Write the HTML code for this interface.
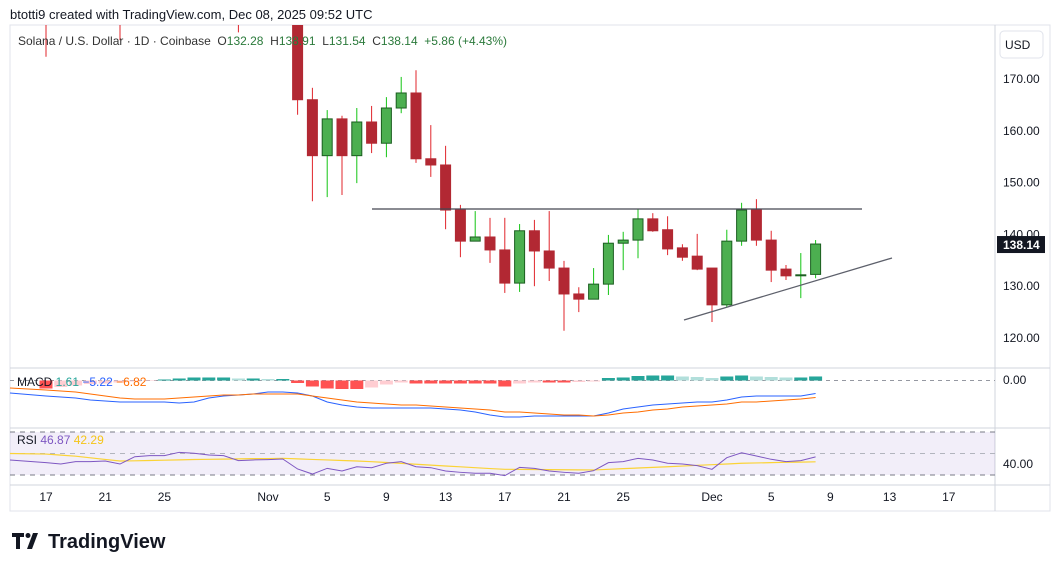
<!DOCTYPE html>
<html><head><meta charset="utf-8"><style>
body{margin:0;background:#fff;width:1057px;height:571px;overflow:hidden;font-family:"Liberation Sans",sans-serif}
svg{position:absolute;left:0;top:0}
</style></head><body>
<svg id="c" width="1057" height="571" xmlns="http://www.w3.org/2000/svg"></svg>
<script>
const opens  =[194,186,190,188,191,186,182,187,189,190,187,188,191,189,187,186,188, 186,166,155.2,162.3,155.2,161.7,157.6,164.4,167.3,154.6,153.4,144.7,138.7,139.5,137.0,130.6,140.7,136.8,133.5,128.5,127.5,130.4,138.3,138.9,143.0,140.9,137.4,135.8,133.5,126.4,138.7,144.7,138.9,133.3,132.2,132.28];
const highs  =[195,192,193,192,193,188,187,191,192,193,190,192,193,191,190,189,190, 188,168.3,164.0,162.9,164.4,164.8,166.5,170.4,171.7,161.1,157.1,145.7,144.5,143.2,143.2,142.0,142.8,144.5,134.9,129.8,133.5,139.9,140.5,144.9,144.1,143.5,138.1,140.1,133.5,140.9,146.1,146.8,140.7,134.1,136.4,138.91];
const lows   =[174.3,185,186,186,185,177.5,180.5,184,186,186,185,186,187,179,184,183,184, 163.1,146.4,147.2,147.6,149.9,155.7,154.9,163.4,153.8,151.1,141.0,135.6,138.7,134.5,128.7,128.9,130.0,131.0,121.4,125.0,127.5,128.3,133.1,135.4,140.5,136.0,134.9,133.1,123.1,126.0,137.8,137.8,130.8,131.2,127.7,131.54];
const closes =[186,190,188,191,186,182,187,189,190,187,188,191,189,187,186,188,186, 166,155.2,162.3,155.2,161.7,157.6,164.4,167.3,154.6,153.4,144.7,138.7,139.5,137.0,130.6,140.7,136.8,133.5,128.5,127.5,130.4,138.3,138.9,143.0,140.7,137.2,135.6,133.3,126.4,138.7,144.7,138.9,133.1,132.0,132.2,138.14];
const macdLine=[-6.2,-6.6,-7.0,-7.8,-8.2,-8.6,-8.6,-8.6,-8.6,-9.0,-8.6,-7.0,-6.2,-5.8,-5.4,-4.6,-4.6,-5.0,-6.2,-8.6,-9.8,-10.6,-11.0,-11.0,-11.0,-11.0,-11.0,-11.4,-11.8,-12.6,-13.8,-14.6,-14.6,-14.2,-14.2,-14.2,-14.2,-14.2,-13.0,-11.4,-10.6,-9.8,-9.4,-9.0,-8.6,-8.6,-7.8,-6.6,-6.2,-6.2,-6.2,-6.2,-5.22];
const signalLine=[-3.8,-4.2,-4.6,-5.4,-6.2,-7.0,-7.4,-7.4,-7.4,-7.0,-6.6,-6.2,-5.8,-5.8,-5.4,-5.4,-5.4,-5.4,-6.2,-7.0,-7.8,-8.6,-9.0,-9.4,-9.8,-9.8,-10.2,-10.6,-11.0,-11.4,-11.8,-12.6,-12.6,-13.0,-13.4,-13.8,-13.8,-14.2,-13.8,-13.0,-12.6,-11.8,-11.4,-10.6,-10.2,-9.8,-9.4,-8.6,-8.6,-8.2,-7.8,-7.4,-6.82];
const histVals=[-3.2,-2.6,-2.0,-1.4,-1.2,-0.8,-0.4,-0.2,0.4,0.8,1.2,1.2,1.2,0.8,0.8,0.6,0.6,-1.0,-2.4,-3.2,-3.4,-3.4,-2.8,-1.6,-0.8,-1.2,-1.2,-1.2,-1.2,-1.2,-1.2,-2.4,-1.2,-0.8,-0.8,-0.8,-0.6,-0.4,1.0,1.2,1.8,2.0,2.0,1.6,1.4,1.0,1.6,2.0,1.6,1.4,1.2,1.2,1.61];
const rsiVals=[41.5,40.2,42.4,42.4,43,40.2,47,48,48,51.1,50.2,48.6,48,43.4,44,44.3,44.9,35.6,30.9,36.2,33.7,37.7,36.8,40.9,42.4,37.7,36.8,33.7,32.5,31.6,31.6,29.4,37.1,36.2,33.7,32.5,31.6,34,41.5,42.4,45.5,44,40.9,40.2,38.7,35.3,46.1,50.7,47.7,44.6,42.4,43.4,46.87];
const rsiMa=[49.5,48.5,47.5,46.0,44.5,43.0,43.2,43.5,43.8,44.1,44.4,44.6,44.8,45.0,45.2,45.3,45.5,45.0,44.5,44.0,43.5,43.0,42.4,41.6,40.8,40.0,39.2,38.4,37.6,36.8,36.0,35.3,35.2,35.1,35.0,34.9,34.8,34.7,35.3,35.9,36.5,37.1,37.7,38.3,39.0,39.6,40.2,40.9,41.2,41.5,41.8,42.0,42.29];
const priceTicks=[170,160,150,140,130,120];
const dateLabels=[[0,"17"],[4,"21"],[8,"25"],[15,"Nov"],[19,"5"],[23,"9"],[27,"13"],[31,"17"],[35,"21"],[39,"25"],[45,"Dec"],[49,"5"],[53,"9"],[57,"13"],[61,"17"]];

const NS="http://www.w3.org/2000/svg", svg=document.getElementById('c');
function el(t,a,p){const e=document.createElementNS(NS,t);for(const k in a)e.setAttribute(k,a[k]);(p||svg).appendChild(e);return e;}
function txt(s,a,p){const e=el('text',a,p);e.textContent=s;return e;}
const X=d=>46+d*14.8;
const Y=p=>79+(170-p)*5.18;
const MY=v=>380.5-v*2.5;
const RY=v=>432+(70-v)*1.075;

// frame
el('rect',{x:10,y:25,width:1040,height:486,fill:'none',stroke:'#e0e3eb'});
let l;
l=el('line',{x1:995,y1:25,x2:995,y2:511,stroke:'#d1d4dc'});
l=el('line',{x1:10,y1:368,x2:1050,y2:368,stroke:'#d1d4dc'});
l=el('line',{x1:10,y1:428,x2:1050,y2:428,stroke:'#d1d4dc'});
l=el('line',{x1:10,y1:485,x2:1050,y2:485,stroke:'#d1d4dc'});

// header
txt('btotti9 created with TradingView.com, Dec 08, 2025 09:52 UTC',{x:10,y:19,'font-size':13,fill:'#131722',});

// price pane
const cp=el('clipPath',{id:'pc'});el('rect',{x:10,y:25,width:985,height:343},cp);
const pg=el('g',{'clip-path':'url(#pc)',});
for(let i=0;i<opens.length;i++){
  const up=closes[i]>=opens[i],x=X(i);
  const w=el('line',{x1:x,x2:x,y1:Y(highs[i]),y2:Y(lows[i]),stroke:up?'#14c414':'#e0242b','stroke-width':1},pg);
  
  
  const t=Y(Math.max(opens[i],closes[i])),b=Y(Math.min(opens[i],closes[i]));
  const r=el('rect',{x:x-5,y:t,width:10,height:Math.max(1,b-t),fill:up?'#4caf50':'#b22833',stroke:up?'#1b5e20':'#b22833','stroke-width':1},pg);
  
  
}
el('line',{x1:372,y1:209,x2:862,y2:209,stroke:'#434651','stroke-width':1.3,});
el('line',{x1:684,y1:320,x2:892,y2:258,stroke:'#5d606b','stroke-width':1.3,});
priceTicks.forEach(p=>{const t=txt(p.toFixed(2),{x:1003,y:Y(p)+4,'font-size':12,fill:'#131722'});

});
el('rect',{x:1000,y:31,width:43,height:27,rx:4,fill:'#fff',stroke:'#e0e3eb',});
txt('USD',{x:1005,y:49,'font-size':12,fill:'#131722'});
const lc=closes[closes.length-1];
el('rect',{x:997,y:Y(lc)-8,width:48,height:17,fill:'#131722',});
txt(lc.toFixed(2),{x:1003,y:Y(lc)+5,'font-size':12,'font-weight':'bold',fill:'#fff'});
const lg=txt('',{x:18,y:45,'font-size':12,fill:'#333',});
[['Solana / U.S. Dollar · 1D · Coinbase  ','#333'],['O','#333'],['132.28  ','#2b7a3b'],['H','#333'],['138.91  ','#2b7a3b'],['L','#333'],['131.54  ','#2b7a3b'],['C','#333'],['138.14  +5.86 (+4.43%)','#2b7a3b']].forEach(([s,c])=>{const ts=el('tspan',{fill:c},lg);ts.textContent=s;ts.setAttribute('xml:space','preserve');});
lg.setAttribute('style','white-space:pre');

// MACD
el('line',{x1:10,y1:MY(0),x2:995,y2:MY(0),stroke:'#9598a1','stroke-dasharray':'4 4'});
const mg=el('g',{});
histVals.forEach((v,i)=>{const prev=i?histVals[i-1]:v;let c;
 if(v>=0)c=v>=prev?'#26a69a':'#b2dfdb';else c=v<=prev?'#ff5252':'#ffcdd2';
 const r=el('rect',{x:X(i)-6.5,y:Math.min(MY(0),MY(v)),width:13,height:Math.abs(MY(v)-MY(0)),fill:c},mg);
 
 });
const pts=(a,f)=>a.map((v,i)=>X(i)+','+f(v)).join(' ');
el('polyline',{points:'10,'+MY(-5.0)+' '+pts(macdLine,MY),fill:'none',stroke:'#2962ff','stroke-width':1,});
el('polyline',{points:'10,'+MY(-3.0)+' '+pts(signalLine,MY),fill:'none',stroke:'#ff6d00','stroke-width':1,});
const ml=txt('',{x:17,y:386,'font-size':12,});
[['MACD ','#131722'],['1.61 ','#26a69a'],['−5.22 ','#2962ff'],['−6.82','#ff6d00']].forEach(([s,c])=>{const ts=el('tspan',{fill:c},ml);ts.textContent=s;});
txt('0.00',{x:1003,y:384,'font-size':12,fill:'#131722'});

// RSI
el('rect',{x:10,y:RY(70),width:985,height:RY(30)-RY(70),fill:'#7e57c2','fill-opacity':0.1,});
[70,50,30].forEach(v=>el('line',{x1:10,x2:995,y1:RY(v),y2:RY(v),stroke:v==50?'#b2b5be':'#787b86','stroke-dasharray':'5 5'}));
el('polyline',{points:'10,'+RY(50)+' '+pts(rsiMa,RY),fill:'none',stroke:'#fbd336','stroke-width':1.2,});
el('polyline',{points:'10,'+RY(44)+' '+pts(rsiVals,RY),fill:'none',stroke:'#7e57c2','stroke-width':1,});
const rl=txt('',{x:17,y:444,'font-size':12,});
[['RSI ','#131722'],['46.87 ','#7e57c2'],['42.29','#f5c518']].forEach(([s,c])=>{const ts=el('tspan',{fill:c},rl);ts.textContent=s;});
txt('40.00',{x:1003,y:468,'font-size':12,fill:'#131722'});

// time axis
dateLabels.forEach(([d,s])=>{const t=txt(s,{x:X(d),y:501,'font-size':12,fill:'#131722','text-anchor':'middle'});

});

// logo
const lgo=el('g',{});
el('path',{d:'M12 533h12v4h-4v12h-4v-12h-4z',fill:'#131722'},lgo);
el('circle',{cx:28,cy:535.5,r:2.5,fill:'#131722'},lgo);
el('path',{d:'M33 533h5l-6 16h-5z',fill:'#131722'},lgo);
txt('TradingView',{x:48,y:548,'font-size':20,'font-weight':'bold',fill:'#131722'},lgo);
</script>
</body></html>
